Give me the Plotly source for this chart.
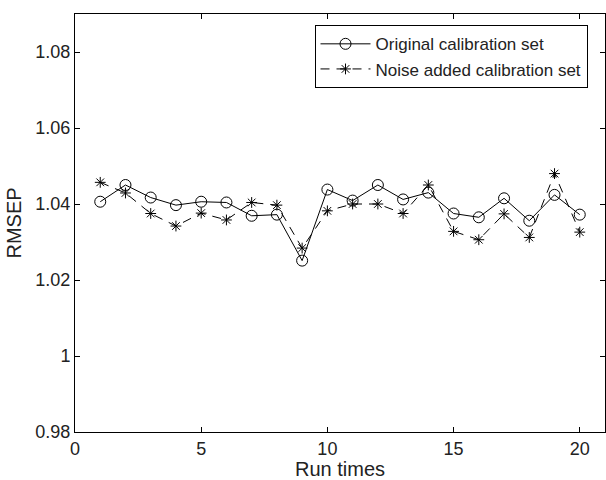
import plotly.graph_objects as go

# Run index and RMSEP for both calibration sets
run_times = list(range(1, 21))
original_rmsep = [1.0406, 1.0450, 1.0417, 1.0397, 1.0406, 1.0404, 1.0369, 1.0372, 1.0251, 1.0438,
                  1.0409, 1.0450, 1.0412, 1.0430, 1.0375, 1.0365, 1.0415, 1.0356, 1.0424, 1.0372]
noise_rmsep = [1.0457, 1.0429, 1.0375, 1.0342, 1.0376, 1.0358, 1.0404, 1.0397, 1.0284, 1.0382,
               1.0400, 1.0400, 1.0375, 1.0450, 1.0328, 1.0306, 1.0374, 1.0312, 1.0480, 1.0326]
x_ticks = [0, 5, 10, 15, 20]
y_ticks = [0.98, 1.0, 1.02, 1.04, 1.06, 1.08]
y_tick_text = ["0.98", "1", "1.02", "1.04", "1.06", "1.08"]

FONT = "Liberation Sans, Arial, sans-serif"

fig = go.Figure()
fig.add_trace(go.Scatter(
    x=run_times, y=original_rmsep, mode="lines+markers",
    name="Original calibration set",
    line=dict(color="black", width=1),
    marker=dict(symbol="circle-open", size=11, color="black", line=dict(width=1)),
))
fig.add_trace(go.Scatter(
    x=run_times, y=noise_rmsep, mode="lines+markers",
    name="Noise added calibration set",
    line=dict(color="black", width=1, dash="9px,7px"),
    marker=dict(symbol="asterisk-open", size=9, color="black", line=dict(width=1, color="black")),
))

axis_common = dict(
    showgrid=False, zeroline=False, showline=True, linecolor="black", linewidth=1,
    mirror="ticks", ticks="inside", ticklen=5, tickcolor="black",
    tickfont=dict(family=FONT, size=18, color="#222"),
)

fig.update_layout(
    width=606, height=480,
    margin=dict(l=75, r=1, t=14, b=48),
    paper_bgcolor="white", plot_bgcolor="white",
    font=dict(family=FONT, color="#222"),
    xaxis=dict(range=[0, 21], tickvals=x_ticks,
               title=dict(text="Run times", font=dict(family=FONT, size=20), standoff=0),
               **axis_common),
    yaxis=dict(range=[0.98, 1.09], tickvals=y_ticks, ticktext=y_tick_text,
               title=dict(text="RMSEP", font=dict(family=FONT, size=20), standoff=8),
               **axis_common),
    legend=dict(
        x=0.967, y=0.973, xanchor="right", yanchor="top",
        bgcolor="white", bordercolor="black", borderwidth=1,
        font=dict(family=FONT, size=17, color="#222"),
        itemwidth=50, tracegroupgap=0,
    ),
    showlegend=True,
)

fig.write_html("out.html")
